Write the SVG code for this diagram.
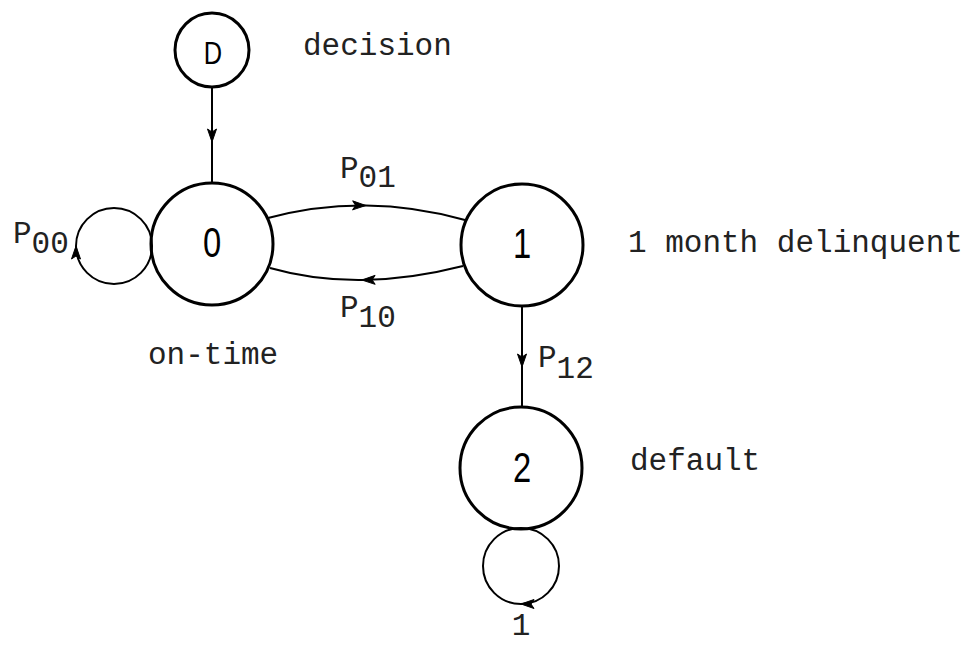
<svg xmlns="http://www.w3.org/2000/svg" width="979" height="647" viewBox="0 0 979 647">
  <defs>
    <style>
      .node { fill: none; stroke: #000; stroke-width: 3; }
      .edge { fill: none; stroke: #000; stroke-width: 2; marker-mid: url(#barb); }
      .mono { font-family: "Liberation Mono", "Courier New", monospace; font-size: 31px; fill: #222; }
      .digit { font-family: "Liberation Sans", Arial, sans-serif; font-size: 42px; fill: #000; text-anchor: middle; }
      .small { font-size: 31px; }
    </style>
    <marker id="barb" viewBox="-14 -6 16 12" refX="0" refY="0" markerWidth="16" markerHeight="12" markerUnits="userSpaceOnUse" orient="auto">
      <path d="M-13,-4.5 L0,0 L-13,4.5 L-10,0 Z" fill="#000" stroke="#000" stroke-width="1" stroke-linejoin="round"/>
    </marker>
  </defs>
  <rect width="979" height="647" fill="#fff"/>

  <!-- transitions -->
  <g id="connectors">
    <path class="edge" d="M212,88 L212,142 L212,183"/>
    <path class="edge" d="M268,218 Q316.5,205 365.75,205.5 Q415,206 465,220"/>
    <path class="edge" d="M463,266 Q410.25,279.5 362,280 Q313.75,280.5 270,268"/>
    <path class="edge" d="M152,246 A38,38 0 0 1 76,246 A38,38 0 0 1 152,246"/>
    <path class="edge" d="M522,306 L522,367 L522,407"/>
    <path class="edge" d="M521,528 A38,38 0 0 1 521,604 A38,38 0 0 1 521,528"/>
  </g>

  <!-- transition labels -->
  <g id="labels" class="mono">
    <text x="13" y="243">P<tspan dy="10">00</tspan></text>
    <text x="340" y="178">P<tspan dy="9">01</tspan></text>
    <text x="340" y="317">P<tspan dy="10">10</tspan></text>
    <text x="538" y="367">P<tspan dy="11">12</tspan></text>
    <text x="521" y="635" text-anchor="middle">1</text>
  </g>

  <g id="node-D">
    <circle class="node" cx="212" cy="50" r="37"/>
    <text class="digit small" transform="translate(213,64) scale(0.82,1)">D</text>
    <text class="mono" x="303" y="55">decision</text>
  </g>

  <g id="node-0">
    <circle class="node" cx="212" cy="244" r="61"/>
    <text class="digit" transform="translate(212,257) scale(0.78,1)">0</text>
    <text class="mono" x="148" y="364">on-time</text>
  </g>

  <g id="node-1">
    <circle class="node" cx="522" cy="245" r="61"/>
    <text class="digit" transform="translate(522,258) scale(0.78,1)">1</text>
    <text class="mono" x="628" y="252">1 month delinquent</text>
  </g>

  <g id="node-2">
    <circle class="node" cx="521" cy="468" r="61"/>
    <text class="digit" transform="translate(522,482) scale(0.78,1)">2</text>
    <text class="mono" x="630" y="470">default</text>
  </g>
</svg>
